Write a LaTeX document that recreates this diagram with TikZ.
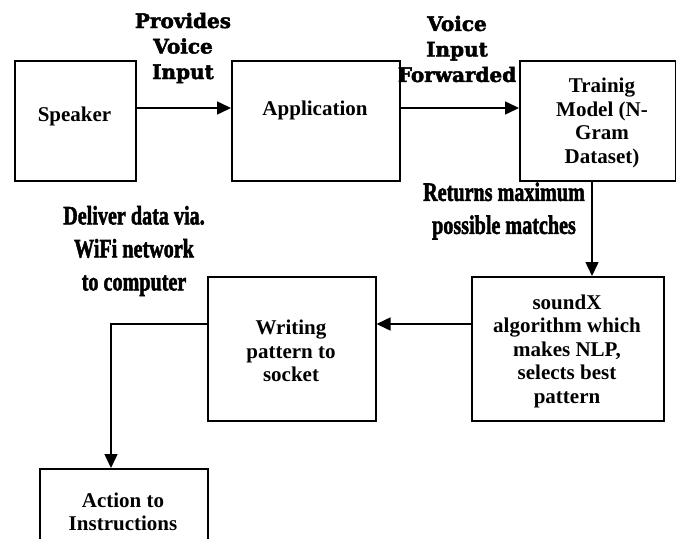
\documentclass[tikz,border=0pt]{standalone}
\usepackage{fontspec}
\setmainfont{Liberation Serif}
\newfontfamily\heavyfont[BoldFeatures={FakeBold=2.2}]{DejaVu Serif}
\newfontfamily\condfont[BoldFeatures={FakeBold=2.2}]{Liberation Serif}
\usetikzlibrary{arrows.meta}
\begin{document}
\begin{tikzpicture}[x=1pt,y=-1pt,
  box/.style={draw, line width=1.5pt, inner sep=0pt, anchor=north west},
  boxtext/.style={font=\bfseries\fontsize{21}{23.5}\selectfont, align=center, inner sep=0pt},
  heavylabel/.style={font=\heavyfont\bfseries\fontsize{20}{25.5}\selectfont, align=center, inner sep=0pt},
  condlabel/.style={font=\condfont\bfseries\fontsize{26.5}{33}\selectfont, align=center, inner sep=0pt},
  arr/.style={line width=1.5pt, -{Triangle[length=14pt,width=13pt]}},
  conn/.style={line width=1.5pt}]
\useasboundingbox (0,0) rectangle (676,538);
\clip (0,0) rectangle (676,538);
% boxes
\node[box, minimum width=121pt, minimum height=120pt] (spk) at (14,60) {};
\node[box, minimum width=168pt, minimum height=120pt] (app) at (231,60) {};
\node[box, minimum width=156pt, minimum height=120pt] (trn) at (519,60) {};
\node[box, minimum width=192pt, minimum height=144pt] (snd) at (471,276) {};
\node[box, minimum width=168pt, minimum height=144pt] (wrt) at (207,276) {};
\node[box, minimum width=168pt, minimum height=90pt] (act) at (39,468) {};
% box texts
\node[boxtext] (tspk) at (74.5,116) {Speaker};
\node[boxtext] (tapp) at (315,110) {Application};
\node[boxtext] (ttrn) at (602,123) {Trainig\\Model (N-\\Gram\\Dataset)};
\node[boxtext] (tsnd) at (567,351) {soundX\\algorithm which\\makes NLP,\\selects best\\pattern};
\node[boxtext] (twrt) at (291,351) {Writing\\pattern to\\socket};
\node[boxtext] (tact) at (123,512) {Action to\\Instructions};
% labels
\node[heavylabel] (l1) at (183,48) {Provides\\Voice\\Input};
\node[heavylabel] (l2) at (457,49) {Voice\\Input\\Forwarded};
\node[condlabel] (l3) at (504,211) {\scalebox{0.76}[1]{Returns maximum}\\\scalebox{0.76}[1]{possible matches}};
\node[condlabel] (l4) at (134,251) {\scalebox{0.76}[1]{Deliver data via.}\\\scalebox{0.76}[1]{WiFi network}\\\scalebox{0.76}[1]{to computer}};
% helper coordinates
\coordinate (r1) at (0,108);
\coordinate (c2) at (592,0);
\coordinate (r3) at (0,324);
\coordinate (c4) at (111,0);
% connectors
\draw[arr] (spk.east |- r1) -- (app.west |- r1);
\draw[arr] (app.east |- r1) -- (trn.west |- r1);
\draw[arr] (trn.south -| c2) -- (snd.north -| c2);
\draw[arr] (snd.west |- r3) -- (wrt.east |- r3);
\draw[arr] (wrt.west |- r3) -| (act.north -| c4);
\end{tikzpicture}
\end{document}
